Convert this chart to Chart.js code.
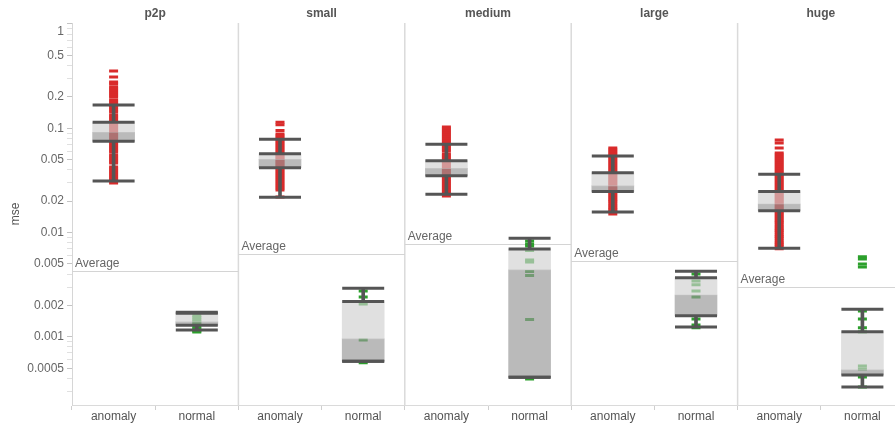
<!DOCTYPE html>
<html>
<head>
<meta charset="utf-8">
<script src="https://cdn.jsdelivr.net/npm/chart.js@4.4.1/dist/chart.umd.min.js"></script>
<style>
  html, body { margin: 0; padding: 0; background: #fff; overflow: hidden; }
  #wrap { width: 904px; height: 428px; }
</style>
</head>
<body>
<div id="wrap"><canvas id="c" width="904" height="428"></canvas></div>
<script>
// Facets and the two groups inside each facet
const panels = ['p2p', 'small', 'medium', 'large', 'huge'];
const groups = ['anomaly', 'normal'];

// Individual mse values per facet and group
const p2pAnomaly = [0.354, 0.310, 0.278, 0.266, 0.249, 0.238, 0.228, 0.218, 0.209, 0.200, 0.187, 0.179, 0.171, 0.164, 0.157, 0.150, 0.143, 0.134, 0.128, 0.123, 0.117, 0.112, 0.107, 0.103, 0.0985, 0.0942, 0.0902, 0.0863, 0.0825, 0.0790, 0.0739, 0.0707, 0.0677, 0.0647, 0.0619, 0.0593, 0.0555, 0.0531, 0.0508, 0.0486, 0.0465, 0.0426, 0.0407, 0.0390, 0.0373, 0.0357, 0.0341, 0.0326, 0.0313, 0.0299];
const p2pNormal = [0.00159, 0.00152, 0.00145, 0.00139, 0.00133, 0.00124, 0.00119, 0.00114, 0.00111];
const smallAnomaly = [0.114, 0.108, 0.0953, 0.0882, 0.0844, 0.0807, 0.0772, 0.0739, 0.0707, 0.0677, 0.0647, 0.0619, 0.0593, 0.0567, 0.0543, 0.0519, 0.0497, 0.0475, 0.0455, 0.0435, 0.0416, 0.0398, 0.0381, 0.0365, 0.0349, 0.0334, 0.0319, 0.0306, 0.0292, 0.0280, 0.0268, 0.0256, 0.0219];
const smallNormal = [0.00275, 0.00241, 0.00207, 0.000934, 0.000565];
const mediumAnomaly = [0.1029, 0.0985, 0.0942, 0.0902, 0.0863, 0.0825, 0.0790, 0.0756, 0.0723, 0.0692, 0.0662, 0.0633, 0.0606, 0.0567, 0.0543, 0.0519, 0.0497, 0.0475, 0.0455, 0.0435, 0.0416, 0.0398, 0.0381, 0.0365, 0.0349, 0.0334, 0.0319, 0.0306, 0.0292, 0.0280, 0.0268, 0.0256, 0.0245, 0.0234, 0.0224];
const mediumNormal = [0.00831, 0.00778, 0.00744, 0.00674, 0.00546, 0.00522, 0.00424, 0.00388, 0.00147, 0.000395];
const largeAnomaly = [0.0647, 0.0619, 0.0593, 0.0567, 0.0543, 0.0519, 0.0497, 0.0475, 0.0455, 0.0435, 0.0416, 0.0398, 0.0381, 0.0365, 0.0349, 0.0334, 0.0319, 0.0306, 0.0292, 0.0280, 0.0268, 0.0256, 0.0245, 0.0234, 0.0224, 0.0215, 0.0205, 0.0197, 0.0188, 0.0180, 0.0172, 0.0165, 0.0158, 0.0151];
const largeNormal = [0.00401, 0.00343, 0.00315, 0.00275, 0.00241, 0.00148, 0.00130, 0.00122];
const hugeAnomaly = [0.0772, 0.0723, 0.0647, 0.0580, 0.0555, 0.0531, 0.0508, 0.0486, 0.0465, 0.0445, 0.0426, 0.0407, 0.0390, 0.0373, 0.0357, 0.0341, 0.0326, 0.0312, 0.0299, 0.0286, 0.0274, 0.0262, 0.0250, 0.0240, 0.0229, 0.0219, 0.0210, 0.0201, 0.0192, 0.0184, 0.0176, 0.0168, 0.0161, 0.0154, 0.0147, 0.0141, 0.0135, 0.0129, 0.0124, 0.0118, 0.0113, 0.0108, 0.0104, 0.00993, 0.00950, 0.00909, 0.00870, 0.00832, 0.00796, 0.00762, 0.00729, 0.00698];
const hugeNormal = [0.00585, 0.00559, 0.00500, 0.00468, 0.00177, 0.00148, 0.00122, 0.00111, 0.000526, 0.000492, 0.000413, 0.000331];

const anomalySeries = [p2pAnomaly, smallAnomaly, mediumAnomaly, largeAnomaly, hugeAnomaly];
const normalSeries = [p2pNormal, smallNormal, mediumNormal, largeNormal, hugeNormal];

// Box-plot summary per column (p2p anomaly, p2p normal, small anomaly, ...)
const whiskerHigh = [0.167, 0.00172, 0.0784, 0.00292, 0.0702, 0.00882, 0.0543, 0.00425, 0.0362, 0.00184];
const upperQuartile = [0.114, 0.00168, 0.0571, 0.00218, 0.0489, 0.00696, 0.0375, 0.00369, 0.0247, 0.00112];
const medianValue = [0.0915, 0.00139, 0.0504, 0.000955, 0.0413, 0.00438, 0.0280, 0.00252, 0.0188, 0.000482];
const lowerQuartile = [0.0750, 0.00129, 0.0419, 0.000583, 0.0351, 0.00041, 0.0247, 0.00159, 0.0162, 0.000431];
const whiskerLow = [0.0313, 0.00116, 0.0218, 0.000583, 0.0233, 0.00041, 0.01576, 0.00124, 0.00707, 0.000331];

// Average reference line per facet
const panelAverage = [0.00424, 0.00624, 0.00772, 0.00538, 0.00303];

// Labelled ticks of the log axis
const yTickLabels = [1, 0.5, 0.2, 0.1, 0.05, 0.02, 0.01, 0.005, 0.002, 0.001, 0.0005];

const Y_MIN = 0.000222, Y_MAX = 1.022;
const RED = '#d92b2b', GREEN = '#2ca02c', DARK = '#555555';
const FONT = '"Liberation Sans", Arial, sans-serif';

const labels = panels.flatMap(p => groups.map(g => p + '|' + g));

// minor ticks: 2..9 times each decade inside the axis range
const minorTicks = [];
[1, 0.1, 0.01, 0.001, 0.0001].forEach(dec => {
  for (let m = 2; m <= 9; m++) {
    const v = m * dec;
    if (v >= Y_MIN && v <= Y_MAX && !yTickLabels.some(t => Math.abs(t - v) < t * 1e-9)) minorTicks.push(v);
  }
});
const allTicks = yTickLabels.concat(minorTicks).sort((a, b) => a - b);
const topTick = Math.max(...yTickLabels);

const anomalyPoints = anomalySeries.flatMap((vals, i) => vals.map(v => ({ x: labels[2 * i], y: v })));
const normalPoints = normalSeries.flatMap((vals, i) => vals.map(v => ({ x: labels[2 * i + 1], y: v })));
const edgePoints = labels.flatMap((l, i) =>
  [whiskerHigh[i], upperQuartile[i], lowerQuartile[i], whiskerLow[i]].map(v => ({ x: l, y: v })));

Chart.defaults.font.family = FONT;
Chart.defaults.font.size = 12;

const panelDecor = {
  id: 'panelDecor',
  beforeDatasetsDraw(chart) {
    const { ctx, chartArea: a, scales: { x, y } } = chart;
    const w = x.width / labels.length;
    ctx.save();
    // facet separators
    ctx.strokeStyle = '#dadada';
    ctx.lineWidth = 1.5;
    for (let k = 1; k <= panels.length; k++) {
      const xx = a.left + 2 * k * w;
      ctx.beginPath();
      ctx.moveTo(xx, a.top);
      ctx.lineTo(xx, a.bottom);
      ctx.stroke();
    }
    // average reference lines
    panels.forEach((p, k) => {
      const left = a.left + 2 * k * w;
      const yy = Math.round(y.getPixelForValue(panelAverage[k])) + 0.5;
      ctx.strokeStyle = '#d4d4d4';
      ctx.lineWidth = 1;
      ctx.beginPath();
      ctx.moveTo(left, yy);
      ctx.lineTo(left + 2 * w, yy);
      ctx.stroke();
      ctx.fillStyle = '#666';
      ctx.font = '12px ' + FONT;
      ctx.textAlign = 'left';
      ctx.textBaseline = 'alphabetic';
      ctx.fillText('Average', left + 3, yy - 5);
    });
    ctx.restore();
  },
  afterDraw(chart) {
    const { ctx, chartArea: a, scales: { x, y } } = chart;
    const w = x.width / labels.length;
    ctx.save();
    ctx.fillStyle = '#555';
    ctx.font = 'bold 12px ' + FONT;
    ctx.textAlign = 'center';
    ctx.textBaseline = 'middle';
    panels.forEach((p, k) => {
      ctx.fillText(p, a.left + (2 * k + 1) * w, 14);
    });
    // the topmost axis label is kept inside the plot height
    ctx.fillStyle = '#666';
    ctx.font = '12px ' + FONT;
    ctx.textAlign = 'right';
    ctx.fillText(String(topTick), y.right - 8, Math.max(y.getPixelForValue(topTick), a.top + 9));
    ctx.restore();
  }
};

new Chart(document.getElementById('c'), {
  type: 'bar',
  data: {
    labels,
    datasets: [
      { // whisker caps and quartile edges
        type: 'line', showLine: false, order: 0,
        data: edgePoints,
        pointStyle: 'line', pointRadius: 21, pointBorderWidth: 3,
        pointBorderColor: DARK, borderColor: DARK
      },
      { // upper half of the box
        order: 1, grouped: false, barThickness: 42, borderWidth: 0,
        backgroundColor: 'rgba(208,208,208,0.66)',
        data: labels.map((_, i) => [medianValue[i], upperQuartile[i]])
      },
      { // lower half of the box
        order: 1, grouped: false, barThickness: 42, borderWidth: 0,
        backgroundColor: 'rgba(150,150,150,0.66)',
        data: labels.map((_, i) => [lowerQuartile[i], medianValue[i]])
      },
      { // upper whisker stem
        order: 2, grouped: false, barThickness: 3, borderWidth: 0,
        backgroundColor: DARK,
        data: labels.map((_, i) => [upperQuartile[i], whiskerHigh[i]])
      },
      { // lower whisker stem
        order: 2, grouped: false, barThickness: 3, borderWidth: 0,
        backgroundColor: DARK,
        data: labels.map((_, i) => [whiskerLow[i], lowerQuartile[i]])
      },
      {
        label: 'anomaly', type: 'line', showLine: false, order: 3,
        data: anomalyPoints,
        pointStyle: 'line', pointRadius: 4.5, pointBorderWidth: 3,
        pointBorderColor: RED, borderColor: RED
      },
      {
        label: 'normal', type: 'line', showLine: false, order: 3,
        data: normalPoints,
        pointStyle: 'line', pointRadius: 4.5, pointBorderWidth: 3,
        pointBorderColor: GREEN, borderColor: GREEN
      }
    ]
  },
  options: {
    responsive: false,
    animation: false,
    events: [],
    layout: { autoPadding: false, padding: { top: 23, left: 0, right: 0, bottom: 0 } },
    plugins: { legend: { display: false }, tooltip: { enabled: false } },
    scales: {
      x: {
        type: 'category',
        offset: true,
        afterFit(scale) { scale.height = 23; },
        grid: { offset: true, drawOnChartArea: false, drawTicks: true, tickLength: 5, color: '#cfcfcf' },
        border: { color: '#dadada' },
        ticks: {
          color: '#555', padding: -1, maxRotation: 0, autoSkip: false,
          callback(v) { return this.getLabelForValue(v).split('|')[1]; }
        }
      },
      y: {
        type: 'logarithmic',
        min: Y_MIN, max: Y_MAX,
        afterFit(scale) { scale.width = 72; },
        afterBuildTicks(scale) { scale.ticks = allTicks.map(v => ({ value: v })); },
        grid: {
          drawOnChartArea: false, drawTicks: true, tickLength: 5,
          tickColor: ctx => (ctx.tick && yTickLabels.includes(ctx.tick.value)) ? '#c4c4c4' : '#e0e0e0'
        },
        border: { color: '#d6d6d6' },
        title: { display: true, text: 'mse', color: '#555', padding: { top: 8, bottom: 0 }, font: { size: 12 } },
        ticks: {
          color: '#666', padding: 3, autoSkip: false,
          callback(v) { return (v !== topTick && yTickLabels.includes(v)) ? String(v) : ''; }
        }
      }
    }
  },
  plugins: [panelDecor]
});
</script>
</body>
</html>
